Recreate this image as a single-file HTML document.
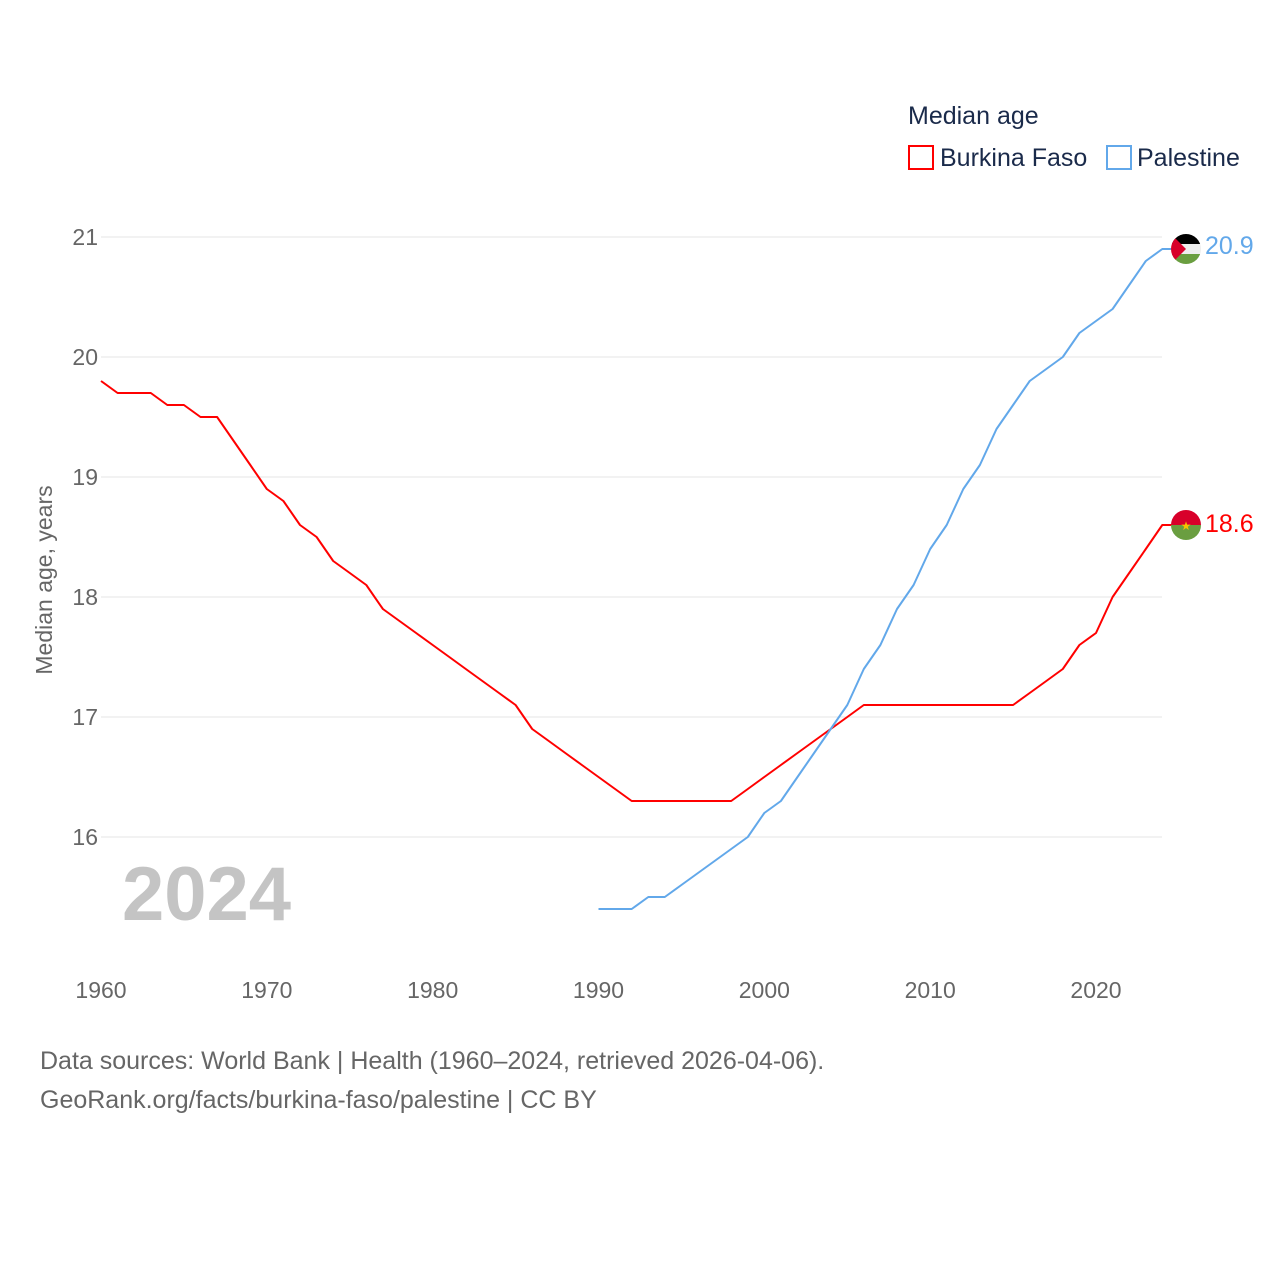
<!DOCTYPE html>
<html><head><meta charset="utf-8"><style>
html,body{margin:0;padding:0;background:#fff;}
svg{display:block;font-family:"Liberation Sans",sans-serif;}
</style></head><body>
<svg id="chart" width="1280" height="1280" viewBox="0 0 1280 1280">
<g id="grid"></g>
<g id="yticks"></g>
<g id="xticks"></g>
<text x="52" y="580" transform="rotate(-90 52 580)" text-anchor="middle" font-size="23" fill="#666">Median age, years</text>
<text x="122" y="920" font-size="76" font-weight="bold" fill="#c4c4c4">2024</text>
<g id="series"></g>
<g>
<text x="908" y="124" font-size="25" fill="#1a2a4a">Median age</text>
<g>
<rect x="909" y="146" width="24" height="23" fill="none" stroke="#ff0000" stroke-width="2"/>
<text x="940" y="166" font-size="25" fill="#1a2a4a">Burkina Faso</text></g>
<g>
<rect x="1107" y="146" width="24" height="23" fill="none" stroke="#62a8ea" stroke-width="2"/>
<text x="1137" y="166" font-size="25" fill="#1a2a4a">Palestine</text></g>
</g>
<defs>
<clipPath id="c1"><circle cx="1186" cy="249" r="15"/></clipPath>
<clipPath id="c2"><circle cx="1186" cy="525" r="15"/></clipPath>
</defs>
<g clip-path="url(#c1)">
<rect x="1171" y="234" width="30" height="10" fill="#000"/>
<rect x="1171" y="244" width="30" height="10" fill="#eee"/>
<rect x="1171" y="254" width="30" height="10" fill="#6a9e40"/>
<polygon points="1171,234 1186,249 1171,264" fill="#d8002a"/>
</g>
<g clip-path="url(#c2)">
<rect x="1171" y="510" width="30" height="15" fill="#d8002a"/>
<rect x="1171" y="525" width="30" height="15" fill="#6a9e40"/>
<text x="1186" y="530" font-size="12" fill="#f5c400" text-anchor="middle">★</text>
</g>
<text x="1205" y="254" font-size="25" fill="#62a8ea">20.9</text>
<text x="1205" y="532" font-size="25" fill="#ff0000">18.6</text>
<text x="40" y="1069" font-size="25" fill="#666">Data sources: World Bank | Health (1960–2024, retrieved 2026-04-06).</text>
<text x="40" y="1108" font-size="25" fill="#666">GeoRank.org/facts/burkina-faso/palestine | CC BY</text>
</svg>
<script>
const bfYears = [1960,1961,1962,1963,1964,1965,1966,1967,1968,1969,1970,1971,1972,1973,1974,1975,1976,1977,1978,1979,1980,1981,1982,1983,1984,1985,1986,1987,1988,1989,1990,1991,1992,1993,1994,1995,1996,1997,1998,1999,2000,2001,2002,2003,2004,2005,2006,2007,2008,2009,2010,2011,2012,2013,2014,2015,2016,2017,2018,2019,2020,2021,2022,2023,2024];
const bfValues = [19.8,19.7,19.7,19.7,19.6,19.6,19.5,19.5,19.3,19.1,18.9,18.8,18.6,18.5,18.3,18.2,18.1,17.9,17.8,17.7,17.6,17.5,17.4,17.3,17.2,17.1,16.9,16.8,16.7,16.6,16.5,16.4,16.3,16.3,16.3,16.3,16.3,16.3,16.3,16.4,16.5,16.6,16.7,16.8,16.9,17.0,17.1,17.1,17.1,17.1,17.1,17.1,17.1,17.1,17.1,17.1,17.2,17.3,17.4,17.6,17.7,18.0,18.2,18.4,18.6];
const psYears = [1990,1991,1992,1993,1994,1995,1996,1997,1998,1999,2000,2001,2002,2003,2004,2005,2006,2007,2008,2009,2010,2011,2012,2013,2014,2015,2016,2017,2018,2019,2020,2021,2022,2023,2024];
const psValues = [15.4,15.4,15.4,15.5,15.5,15.6,15.7,15.8,15.9,16.0,16.2,16.3,16.5,16.7,16.9,17.1,17.4,17.6,17.9,18.1,18.4,18.6,18.9,19.1,19.4,19.6,19.8,19.9,20.0,20.2,20.3,20.4,20.6,20.8,20.9];
const yTicks = [16,17,18,19,20,21];
const xTicks = [1960,1970,1980,1990,2000,2010,2020];

const NS = "http://www.w3.org/2000/svg";
const x = yr => 101 + (yr - 1960) * (995 / 60);
const y = v => 237 + (21 - v) * 120;
function mk(tag, attrs, parent){const e=document.createElementNS(NS,tag);for(const k in attrs)e.setAttribute(k,attrs[k]);parent.appendChild(e);return e;}
const grid=document.getElementById('grid'), yt=document.getElementById('yticks'), xt=document.getElementById('xticks'), ser=document.getElementById('series');
yTicks.forEach(t=>{
  const l=mk('line',{x1:101,x2:1162,y1:y(t),y2:y(t),stroke:'#e6e6e6','stroke-width':1},grid);
  
  
  const tx=mk('text',{x:98,y:y(t)+8,'text-anchor':'end','font-size':23,fill:'#666'},yt);
  tx.textContent=t;
  
  
});
xTicks.forEach(t=>{
  const tx=mk('text',{x:x(t),y:998,'text-anchor':'middle','font-size':23,fill:'#666'},xt);
  tx.textContent=t;
  
  
});
function line(years, vals, color, name){
  let d=years.map((yr,i)=>(i?'L':'M')+x(yr).toFixed(1)+','+y(vals[i]).toFixed(1)).join(' ');
  d+=' L'+(x(years[years.length-1])+10).toFixed(1)+','+y(vals[vals.length-1]).toFixed(1);
  const p=mk('path',{d:d,fill:'none',stroke:color,'stroke-width':2,'stroke-linejoin':'round'},ser);
  
  
}
line(bfYears,bfValues,'#ff0000','burkina-faso-line');
line(psYears,psValues,'#62a8ea','palestine-line');
</script>
</body></html>
